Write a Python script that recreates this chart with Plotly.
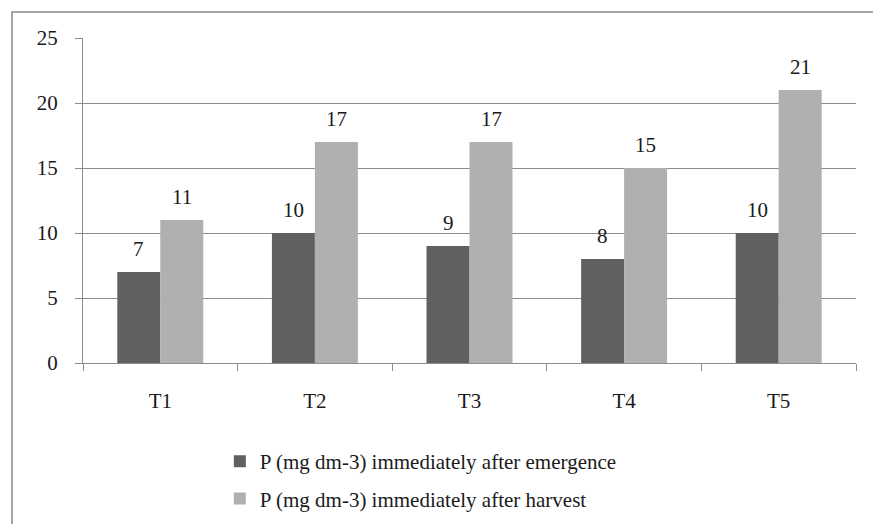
import plotly.graph_objects as go

# Phosphorus content per treatment
treatments = ["T1", "T2", "T3", "T4", "T5"]
p_emergence = [7, 10, 9, 8, 10]
p_harvest = [11, 17, 17, 15, 21]
y_ticks = [0, 5, 10, 15, 20, 25]

name_emergence = "P (mg dm-3) immediately after emergence"
name_harvest = "P (mg dm-3) immediately after harvest"

DARK = "#606060"
LIGHT = "#b0b0b0"
GRID = "#8c8c8c"
FONT = "Liberation Serif"
FS = 21

fig = go.Figure()
fig.add_trace(go.Bar(x=treatments, y=p_emergence, name=name_emergence,
                     marker=dict(color=DARK, line=dict(width=0)),
                     legendgroup="a"))
fig.add_trace(go.Bar(x=treatments, y=p_harvest, name=name_harvest,
                     marker=dict(color=LIGHT, line=dict(width=0)),
                     legendgroup="b"))

# Value labels above each bar (offset to the bar's slot within the group)
half_bar_px = 21.5
for cat, v in zip(treatments, p_emergence):
    fig.add_annotation(x=cat, y=v, text=str(v), showarrow=False,
                       xanchor="center", yanchor="bottom",
                       xshift=-half_bar_px, yshift=9,
                       font=dict(family=FONT, size=FS, color="#1a1a1a"))
for cat, v in zip(treatments, p_harvest):
    fig.add_annotation(x=cat, y=v, text=str(v), showarrow=False,
                       xanchor="center", yanchor="bottom",
                       xshift=half_bar_px, yshift=9,
                       font=dict(family=FONT, size=FS, color="#1a1a1a"))

# Outer chart frame (left and top edges visible)
fig.add_shape(type="rect", xref="paper", yref="paper",
              x0=-0.0918, x1=1.1, y0=-1.0, y1=1.08,
              line=dict(color="#a6a6a6", width=2), layer="below")

fig.update_layout(
    width=873, height=524,
    margin=dict(l=83, r=17, t=38, b=161, autoexpand=False),
    paper_bgcolor="white", plot_bgcolor="white",
    barmode="group", bargap=0.444, bargroupgap=0,
    font=dict(family=FONT, size=FS, color="#1a1a1a"),
    showlegend=True,
    legend=dict(orientation="v", x=0.177, xanchor="left",
                y=-0.24, yanchor="top",
                font=dict(family=FONT, size=FS, color="#1a1a1a"),
                tracegroupgap=7, bgcolor="rgba(0,0,0,0)",
                traceorder="grouped"),
    xaxis=dict(type="category", showline=True, linecolor=GRID, linewidth=1,
               ticks="outside", tickson="boundaries", ticklen=7,
               tickcolor=GRID, showgrid=False, ticklabelstandoff=19,
               tickfont=dict(family=FONT, size=FS, color="#1a1a1a"),
               fixedrange=True),
    yaxis=dict(range=[0, 25], tickvals=y_ticks, showline=True,
               linecolor=GRID, linewidth=1, ticks="outside", ticklen=7,
               tickcolor=GRID, showgrid=True, gridcolor=GRID, gridwidth=1,
               zeroline=False, ticklabelstandoff=13,
               tickfont=dict(family=FONT, size=FS, color="#1a1a1a"),
               fixedrange=True),
)

fig.write_html("out.html", config={"displayModeBar": False})
